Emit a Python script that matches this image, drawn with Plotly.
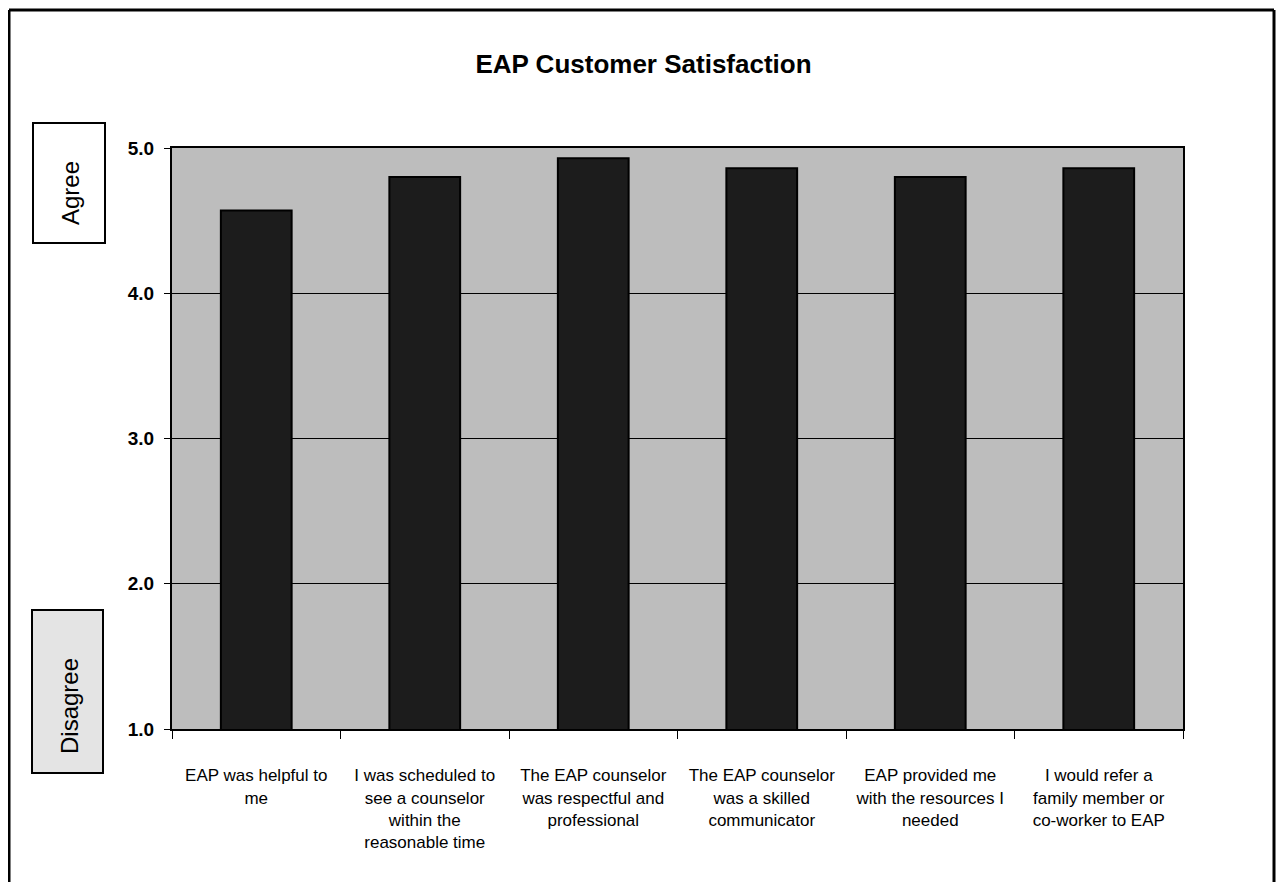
import plotly.graph_objects as go

categories = [
    "EAP was helpful to<br>me",
    "I was scheduled to<br>see a counselor<br>within the<br>reasonable time",
    "The EAP counselor<br>was respectful and<br>professional",
    "The EAP counselor<br>was a skilled<br>communicator",
    "EAP provided me<br>with the resources I<br>needed",
    "I would refer a<br>family member or<br>co-worker to EAP",
]
values = [4.57, 4.80, 4.93, 4.86, 4.80, 4.86]
y_ticks = [1.0, 2.0, 3.0, 4.0, 5.0]
y_tick_labels = ["1.0", "2.0", "3.0", "4.0", "5.0"]

OFF = 8  # browser body margin
W, H = 1284 - 2 * OFF, 882 - OFF
PL, PR, PT, PB = 172 - OFF, 1183 - OFF, 148 - OFF, 729 - OFF  # plot area in figure pixels
ML, MR, MT, MB = PL, W - PR, PT, H - PB
pw, ph = PR - PL, PB - PT

def px_x(x):  # page x -> paper
    return (x - OFF - PL) / pw

def px_y(y):  # page y -> paper
    return (PB - (y - OFF)) / ph

FONT = "Liberation Sans, Arial, sans-serif"

fig = go.Figure()
fig.add_trace(go.Bar(
    x=categories, y=values, base=0,
    width=0.42,
    marker=dict(color="#1c1c1c", line=dict(color="#000000", width=2)),
    hoverinfo="y",
))

shapes = [
    dict(type="line", xref="paper", yref="paper", x0=px_x(9), x1=px_x(9), y0=px_y(10), y1=px_y(900),
         line=dict(color="black", width=3)),
    dict(type="line", xref="paper", yref="paper", x0=px_x(9), x1=px_x(1274), y0=px_y(10), y1=px_y(10),
         line=dict(color="black", width=3)),
    dict(type="line", xref="paper", yref="paper", x0=px_x(1274), x1=px_x(1274), y0=px_y(10), y1=px_y(900),
         line=dict(color="black", width=3)),
    dict(type="rect", xref="paper", yref="paper", x0=px_x(33), x1=px_x(105), y0=px_y(243), y1=px_y(123),
         line=dict(color="black", width=2), fillcolor="white"),
    dict(type="rect", xref="paper", yref="paper", x0=px_x(32), x1=px_x(103), y0=px_y(773), y1=px_y(610),
         line=dict(color="black", width=2), fillcolor="#e4e4e4"),
]

annotations = [
    dict(text="Agree", xref="paper", yref="paper", x=px_x(70), y=px_y(193), showarrow=False,
         textangle=-90, font=dict(family=FONT, size=24, color="black"), xanchor="center", yanchor="middle"),
    dict(text="Disagree", xref="paper", yref="paper", x=px_x(69), y=px_y(706), showarrow=False,
         textangle=-90, font=dict(family=FONT, size=24, color="black"), xanchor="center", yanchor="middle"),
]

fig.update_layout(
    width=W, height=H,
    margin=dict(l=ML, r=MR, t=MT, b=MB, autoexpand=False),
    paper_bgcolor="white",
    plot_bgcolor="#bdbdbd",
    title=dict(text="<b>EAP Customer Satisfaction</b>", x=(643.5 - OFF) / W, xanchor="center",
               y=1 - (64 - OFF) / H, yanchor="middle", font=dict(family=FONT, size=26, color="black")),
    showlegend=False,
    shapes=shapes,
    annotations=annotations,
    font=dict(family=FONT, color="black"),
)
fig.update_xaxes(
    type="category", tickson="boundaries", ticks="outside", ticklen=8, tickcolor="black",
    showline=True, linecolor="black", linewidth=2, mirror=True, showgrid=False,
    tickfont=dict(family=FONT, size=17, color="black"), tickangle=0, ticklabelstandoff=30,
)
fig.update_yaxes(
    range=[1.0, 5.0], tickvals=y_ticks, ticktext=["<b>%s</b>" % t for t in y_tick_labels],
    ticks="outside", ticklen=6, tickcolor="black",
    showline=True, linecolor="black", linewidth=2, mirror=True,
    showgrid=True, gridcolor="black", gridwidth=1, zeroline=False,
    tickfont=dict(family=FONT, size=19, color="black"), ticklabelstandoff=6,
)

fig.write_html("out.html")
